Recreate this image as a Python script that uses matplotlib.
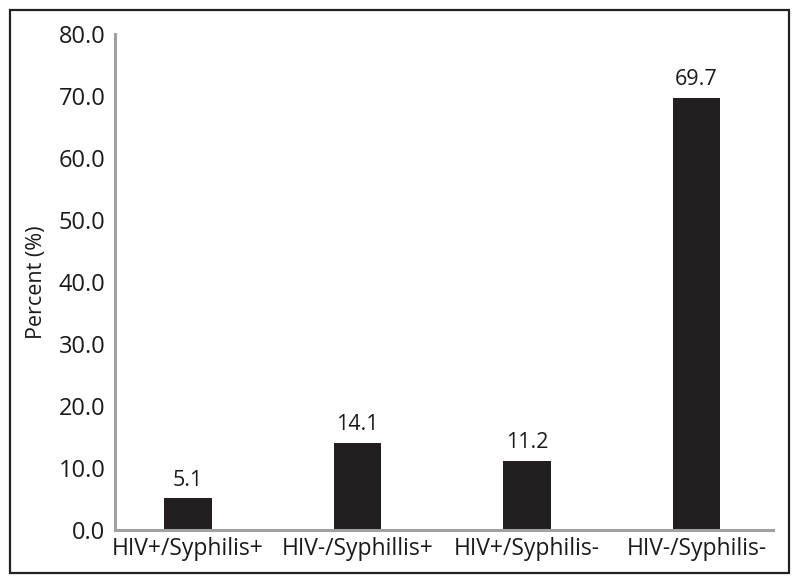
import matplotlib.pyplot as plt
from matplotlib.patches import Rectangle

plt.rcParams['font.family'] = ['Open Sans', 'DejaVu Sans']

categories = ['HIV+/Syphilis+', 'HIV-/Syphillis+', 'HIV+/Syphilis-', 'HIV-/Syphilis-']
percents = [5.1, 14.1, 11.2, 69.7]
yticks = [0, 10, 20, 30, 40, 50, 60, 70, 80]

fig = plt.figure(figsize=(8, 5.85), dpi=100)
ax = fig.add_axes([0.144, 0.094, 0.822, 0.848])

x = range(len(categories))
bars = ax.bar(x, percents, width=0.28, color='#231f20')
for b, v in zip(bars, percents):
    ax.text(b.get_x() + b.get_width() / 2, v + 1.2, f'{v:.1f}',
            ha='center', va='bottom', fontsize=15.5, color='#1a1a1a')

ax.set_xlim(-0.43, 3.45)
ax.set_ylim(0, 80)
ax.set_yticks(yticks)
ax.set_yticklabels([f'{t:.1f}' for t in yticks], fontsize=17, color='#1a1a1a')
ax.set_xticks(list(x))
ax.set_xticklabels(categories, fontsize=16.5, color='#1a1a1a')
ax.tick_params(axis='y', length=0, pad=7)
ax.tick_params(axis='x', length=0, pad=5)
ax.set_ylabel('Percent (%)', fontsize=15.5, color='#1a1a1a', labelpad=8)

for s in ['top', 'right']:
    ax.spines[s].set_visible(False)
for s in ['left', 'bottom']:
    ax.spines[s].set_color('#a0a0a0')
    ax.spines[s].set_linewidth(2.2)

# outer frame around the whole figure
fig.patches.append(Rectangle((10 / 800, 12 / 585), 779 / 800, 563 / 585,
                             transform=fig.transFigure, fill=False,
                             edgecolor='#222222', linewidth=1.6))

fig.savefig('out.png', dpi=100, facecolor='white')
